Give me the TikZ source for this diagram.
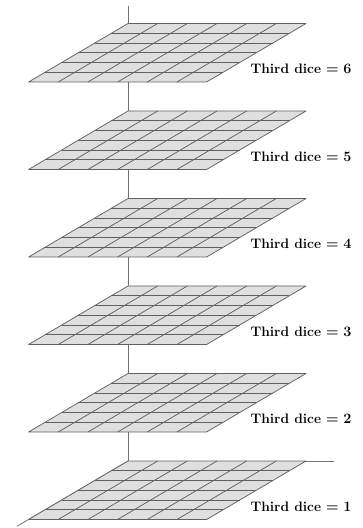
\documentclass[tikz,border=0pt]{standalone}
\begin{document}
\begin{tikzpicture}[
    x={(29.67bp,0bp)}, y={(-16.57bp,-9.75bp)}, z={(0bp,87.5bp)},
    axis/.style={draw=black!55, line width=0.8pt},
    plane/.style={fill=gray!25, draw=black!62, line width=0.75pt, line join=round},
    gridline/.style={draw=black!62, line width=0.75pt},
    lab/.style={anchor=west, inner sep=0pt, font=\fontsize{13.8}{15}\selectfont\bfseries\boldmath}
  ]
  \useasboundingbox (-128bp,-67bp) rectangle (235bp,461bp);

  % coordinate axes, drawn first so the levels cover them
  \coordinate (o) at (0,0,0);
  \coordinate (xend) at (6.95,0,0);
  \coordinate (yend) at (0,6.7,0);
  \coordinate (zend) at (0,0,5.2);
  \draw[axis] (o) -- (xend);
  \draw[axis] (o) -- (yend);
  \draw[axis] (o) -- (zend);

  % one 6x6 grid per value of the third die
  \foreach \k in {1,...,6} {
    \pgfmathsetmacro\h{\k-1}
    \path[plane] (0,0,\h) -- (6,0,\h) -- (6,6,\h) -- (0,6,\h) -- cycle;
    \foreach \i in {1,...,5} {
      \draw[gridline] (\i,0,\h) -- (\i,6,\h);
      \draw[gridline] (0,\i,\h) -- (6,\i,\h);
    }
    \node[lab] (lab\k) at (6.72,4.65,\h) {Third dice $= \k$};
  }
\end{tikzpicture}
\end{document}
